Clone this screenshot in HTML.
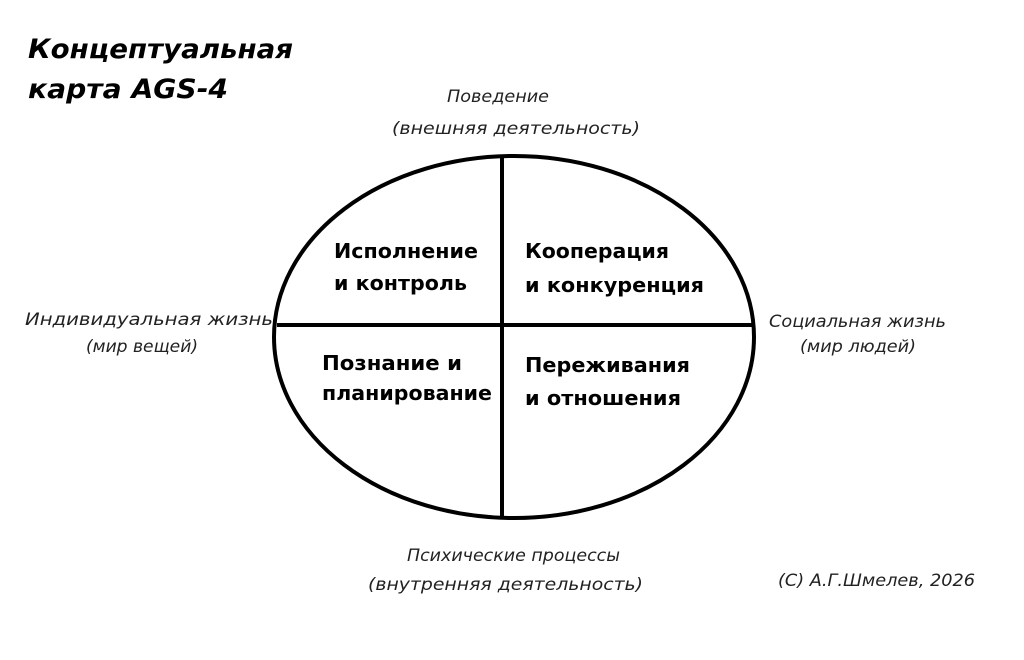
<!DOCTYPE html>
<html><head><meta charset="utf-8"><style>
body{margin:0;width:1024px;height:660px;background:#fff;overflow:hidden;font-family:"Liberation Sans","DejaVu Sans",sans-serif;}
</style></head><body>
<svg width="1024" height="660" xmlns="http://www.w3.org/2000/svg" style="position:absolute;left:0;top:0">
<ellipse cx="514" cy="337" rx="240" ry="181" fill="none" stroke="#000" stroke-width="4"/>
<line x1="502" y1="158" x2="502" y2="517" stroke="#000" stroke-width="4"/>
<line x1="277" y1="325" x2="753" y2="325" stroke="#000" stroke-width="4"/>
<g font-family="DejaVu Sans, Liberation Sans, sans-serif" font-weight="bold" font-style="italic" font-size="27" fill="#000" lengthAdjust="spacingAndGlyphs">
<text x="28" y="58" textLength="265" lengthAdjust="spacingAndGlyphs">Концептуальная</text>
<text x="28" y="98" textLength="200" lengthAdjust="spacingAndGlyphs">карта AGS-4</text>
</g>
<g font-family="DejaVu Sans, Liberation Sans, sans-serif" font-weight="bold" font-size="20.5" fill="#000">
<text x="334" y="258" textLength="144" lengthAdjust="spacingAndGlyphs">Исполнение</text>
<text x="334" y="290" textLength="133" lengthAdjust="spacingAndGlyphs">и контроль</text>
<text x="525" y="258" textLength="144" lengthAdjust="spacingAndGlyphs">Кооперация</text>
<text x="525" y="292" textLength="179" lengthAdjust="spacingAndGlyphs">и конкуренция</text>
<text x="322" y="370" textLength="140" lengthAdjust="spacingAndGlyphs">Познание и</text>
<text x="322" y="400" textLength="170" lengthAdjust="spacingAndGlyphs">планирование</text>
<text x="525" y="372" textLength="165" lengthAdjust="spacingAndGlyphs">Переживания</text>
<text x="525" y="405" textLength="156" lengthAdjust="spacingAndGlyphs">и отношения</text>
</g>
<g font-family="DejaVu Sans, Liberation Sans, sans-serif" font-style="italic" font-size="17" fill="#222">
<text x="447" y="102" textLength="102" lengthAdjust="spacingAndGlyphs">Поведение</text>
<text x="392" y="134" textLength="248" lengthAdjust="spacingAndGlyphs">(внешняя  деятельность)</text>
<text x="25" y="325" textLength="248" lengthAdjust="spacingAndGlyphs">Индивидуальная жизнь</text>
<text x="86" y="352" textLength="112" lengthAdjust="spacingAndGlyphs">(мир вещей)</text>
<text x="769" y="327" textLength="177" lengthAdjust="spacingAndGlyphs">Социальная жизнь</text>
<text x="800" y="352" textLength="116" lengthAdjust="spacingAndGlyphs">(мир людей)</text>
<text x="407" y="561" textLength="213" lengthAdjust="spacingAndGlyphs">Психические процессы</text>
<text x="368" y="590" textLength="275" lengthAdjust="spacingAndGlyphs">(внутренняя деятельность)</text>
<text x="778" y="586" textLength="197" lengthAdjust="spacingAndGlyphs">(С) А.Г.Шмелев, 2026</text>
</g>
</svg>
</body></html>
